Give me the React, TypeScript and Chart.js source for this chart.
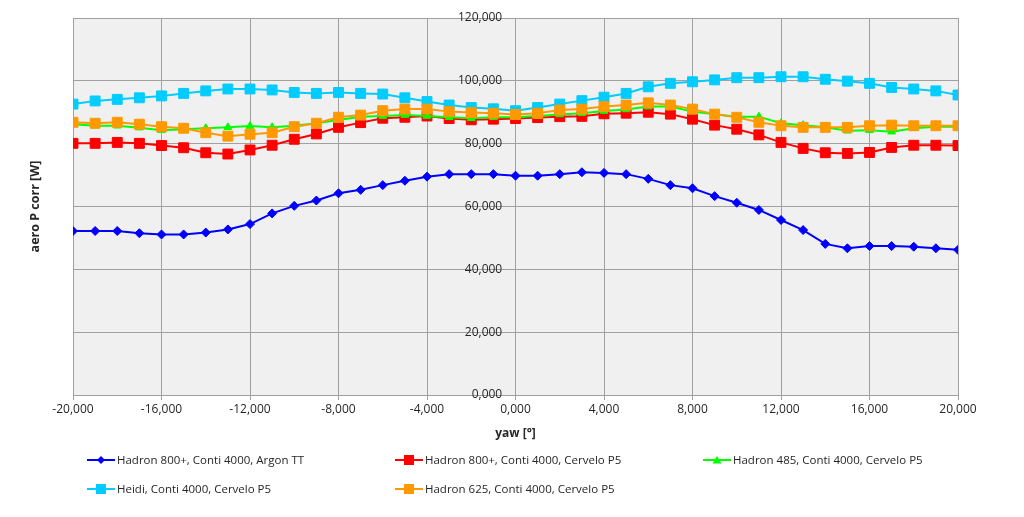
import React, { useEffect, useRef } from "react";
import { Chart, registerables } from "chart.js";

Chart.register(...registerables);

const yaw = [
  -20, -19, -18, -17, -16, -15, -14, -13, -12, -11, -10, -9, -8, -7, -6, -5, -4, -3, -2, -1, 0,
  1, 2, 3, 4, 5, 6, 7, 8, 9, 10, 11, 12, 13, 14, 15, 16, 17, 18, 19, 20,
];

const hadron800Argon = [
  52.2, 52.2, 52.2, 51.5, 51.1, 51.1, 51.7, 52.7, 54.4, 57.8, 60.2, 61.9, 64.2, 65.3, 66.8, 68.2,
  69.5, 70.3, 70.3, 70.3, 69.8, 69.8, 70.3, 70.9, 70.7, 70.3, 68.8, 66.8, 65.8, 63.3, 61.2, 58.9,
  55.7, 52.5, 48.1, 46.7, 47.4, 47.4, 47.2, 46.7, 46.2,
];

const hadron800Cervelo = [
  80.1, 80.1, 80.4, 80.1, 79.4, 78.7, 77.1, 76.7, 78.0, 79.5, 81.4, 83.1, 85.2, 86.7, 88.1, 88.4,
  88.8, 88.0, 87.6, 87.8, 88.0, 88.3, 88.6, 88.7, 89.5, 89.7, 90.0, 89.4, 87.8, 85.9, 84.6, 82.8,
  80.4, 78.5, 77.1, 76.9, 77.2, 78.8, 79.5, 79.5, 79.4,
];

const hadron485Cervelo = [
  86.2, 85.7, 85.7, 85.1, 84.3, 84.6, 84.9, 85.2, 85.6, 85.2, 85.7, 86.5, 87.5, 88.6, 88.8, 89.1,
  88.8, 88.4, 88.1, 88.4, 88.4, 88.8, 89.3, 89.7, 90.4, 90.9, 91.8, 91.8, 90.2, 89.4, 88.6, 88.6,
  86.5, 85.9, 85.2, 84.1, 84.3, 83.8, 84.9, 85.4, 85.4,
];

const heidiCervelo = [
  92.6, 93.6, 94.1, 94.6, 95.2, 96.0, 96.8, 97.4, 97.4, 97.1, 96.3, 96.0, 96.3, 96.0, 95.8, 94.6,
  93.4, 92.3, 91.5, 91.1, 90.5, 91.5, 92.6, 93.7, 94.8, 96.0, 98.1, 99.2, 99.7, 100.3, 101.0, 101.0,
  101.3, 101.3, 100.5, 99.9, 99.2, 97.9, 97.4, 96.8, 95.5,
];

const hadron625Cervelo = [
  86.8, 86.5, 86.8, 86.2, 85.4, 84.9, 83.5, 82.4, 83.0, 83.5, 85.4, 86.5, 88.4, 89.1, 90.5, 91.0,
  91.0, 90.2, 89.9, 89.7, 89.3, 89.7, 90.7, 91.0, 91.8, 92.3, 93.0, 92.3, 91.0, 89.4, 88.4, 86.8,
  85.7, 85.2, 85.2, 85.2, 85.7, 85.9, 85.7, 85.7, 85.7,
];

const seriesLabels = [
  "Hadron 800+, Conti 4000, Argon TT",
  "Hadron 800+, Conti 4000, Cervelo P5",
  "Hadron 485, Conti 4000, Cervelo P5",
  "Heidi, Conti 4000, Cervelo P5",
  "Hadron 625, Conti 4000, Cervelo P5",
];

const xTitle = "yaw [°]";
const yTitle = "aero P corr [W]";

const FONT = "'Open Sans', sans-serif";
const GRID = "#A0A0A0";
const TEXT = "#262626";

const seriesStyles = [
  { color: "#0000FF", point: "rectRot", radius: 4.5 },
  { color: "#FF0000", point: "rect", radius: 7 },
  { color: "#00FF00", point: "triangle", radius: 4.5 },
  { color: "#00CCFF", point: "rect", radius: 7 },
  { color: "#FF9900", point: "rect", radius: 7 },
];

const seriesValues = [hadron800Argon, hadron800Cervelo, hadron485Cervelo, heidiCervelo, hadron625Cervelo];

const fmt = (v: number) => Number(v).toFixed(3).replace(".", ",");

const plotBg = {
  id: "plotBg",
  beforeDraw(chart: any) {
    const { ctx, chartArea } = chart;
    ctx.save();
    ctx.fillStyle = "#F0F0F0";
    ctx.fillRect(chartArea.left, chartArea.top, chartArea.right - chartArea.left, chartArea.bottom - chartArea.top);
    ctx.restore();
  },
};

const yTitlePlugin = {
  id: "yTitlePlugin",
  afterDraw(chart: any) {
    const { ctx, chartArea } = chart;
    ctx.save();
    ctx.translate(35, (chartArea.top + chartArea.bottom) / 2);
    ctx.rotate(-Math.PI / 2);
    ctx.font = `bold 12.5px ${FONT}`;
    ctx.fillStyle = TEXT;
    ctx.textAlign = "center";
    ctx.textBaseline = "middle";
    ctx.fillText(yTitle, 0, 0);
    ctx.restore();
  },
};

function LegendMarker({ color, point }: { color: string; point: string }) {
  let shape: any = null;
  if (point === "rectRot") shape = <polygon points="14,3 18,7 14,11 10,7" fill={color} />;
  else if (point === "triangle") shape = <polygon points="14,3 18.5,10.5 9.5,10.5" fill={color} />;
  else shape = <rect x={9} y={2} width={10} height={10} fill={color} />;
  return (
    <svg width={28} height={14} style={{ display: "block", flex: "none" }}>
      <line x1={0} y1={7} x2={28} y2={7} stroke={color} strokeWidth={2} />
      {shape}
    </svg>
  );
}

export default function App() {
  const ref = useRef<HTMLCanvasElement | null>(null);

  useEffect(() => {
    if (!ref.current) return;
    const datasets = seriesValues.map((vals, i) => ({
      label: seriesLabels[i],
      data: yaw.map((x, j) => ({ x, y: vals[j] })),
      borderColor: seriesStyles[i].color,
      backgroundColor: seriesStyles[i].color,
      pointStyle: seriesStyles[i].point as any,
      pointRadius: seriesStyles[i].radius,
      pointBorderWidth: 1,
      borderWidth: 2,
      tension: 0,
      order: seriesValues.length - i,
    }));
    const chart = new Chart(ref.current, {
      type: "line",
      data: { datasets },
      options: {
        responsive: false,
        animation: false,
        layout: { padding: { left: 73, right: 66, top: 18, bottom: 76 } },
        plugins: { legend: { display: false }, tooltip: { enabled: false } },
        scales: {
          x: {
            type: "linear",
            min: -20,
            max: 20,
            ticks: { stepSize: 4, callback: (v: any) => fmt(v), font: { family: FONT, size: 12 }, color: TEXT, padding: 2, maxRotation: 0 },
            grid: { color: GRID, tickLength: 5, lineWidth: 1 },
            border: { color: GRID },
            title: { display: true, text: xTitle, font: { family: FONT, size: 12, weight: "bold" }, color: TEXT, padding: { top: 2, bottom: 0 } },
            afterFit: (scale: any) => {
              scale.height = 46;
            },
          },
          y: {
            type: "linear",
            min: 0,
            max: 120,
            position: { x: -0.6 } as any,
            ticks: { stepSize: 20, callback: (v: any) => fmt(v), font: { family: FONT, size: 12 }, color: TEXT },
            grid: { color: GRID, drawTicks: false, lineWidth: 1 },
            border: { display: false },
          },
        },
      },
      plugins: [plotBg, yTitlePlugin],
    });
    return () => chart.destroy();
  }, []);

  return (
    <div style={{ position: "absolute", left: 0, top: 0, width: 1024, height: 517, background: "#fff" }}>
      <canvas ref={ref} width={1024} height={517} style={{ display: "block" }} />
      <div
        style={{
          position: "absolute",
          left: 87,
          top: 445,
          display: "grid",
          gridTemplateColumns: "308px 308px 308px",
          gridAutoRows: "29px",
          fontFamily: FONT,
          fontSize: 11.5,
          color: TEXT,
        }}
      >
        {seriesLabels.map((label, i) => (
          <div key={label} style={{ display: "flex", alignItems: "center", whiteSpace: "nowrap" }}>
            <LegendMarker color={seriesStyles[i].color} point={seriesStyles[i].point} />
            <span style={{ marginLeft: 2 }}>{label}</span>
          </div>
        ))}
      </div>
    </div>
  );
}
